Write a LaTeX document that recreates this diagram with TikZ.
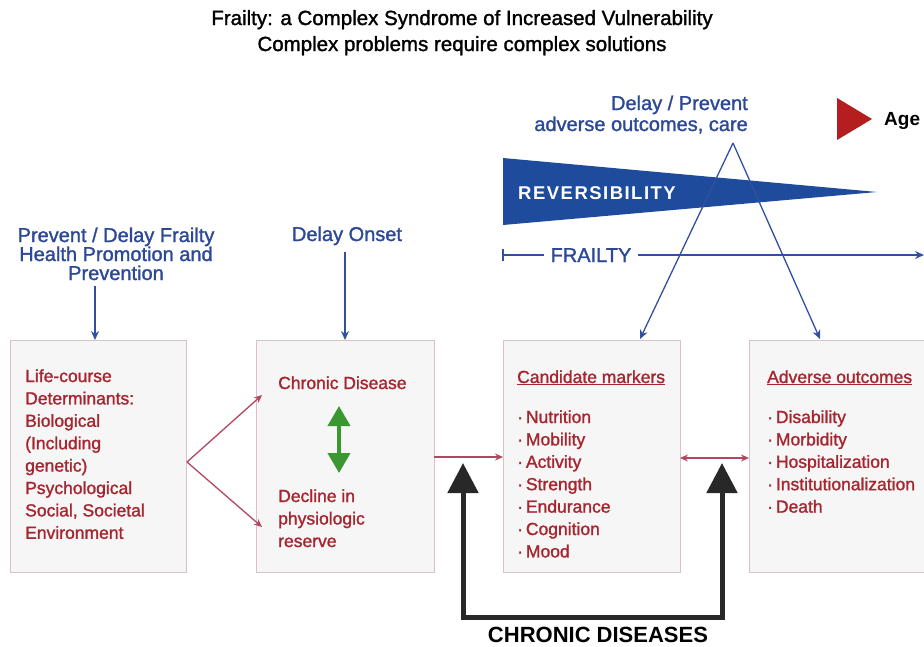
\documentclass[tikz,border=0pt]{standalone}
\usepackage{fontspec}
\setmainfont{Liberation Sans}
\newfontfamily\med[FakeBold=1.4]{Liberation Sans}
\usetikzlibrary{arrows.meta}
\definecolor{tred}{RGB}{166,38,48}
\definecolor{tblue}{RGB}{44,72,150}
\definecolor{lblue}{RGB}{50,80,160}
\definecolor{wblue}{RGB}{30,75,155}
\definecolor{cred}{RGB}{180,70,95}
\definecolor{boxfill}{RGB}{247,246,247}
\definecolor{boxline}{RGB}{215,195,198}
\definecolor{gr}{RGB}{60,150,50}
\definecolor{agered}{RGB}{180,30,30}
\definecolor{kblack}{RGB}{40,40,40}
\begin{document}
\begin{tikzpicture}[x=1pt,y=-1pt,
  box/.style={draw=boxline,fill=boxfill,line width=1pt,anchor=north west,minimum height=232pt,inner sep=0pt},
  rtxt/.style={anchor=base west,text=tred,font=\med\fontsize{17.5}{21}\selectfont,inner sep=0pt},
  btxt/.style={anchor=base,text=tblue,font=\med\fontsize{20}{23}\selectfont,inner sep=0pt},
  barrow/.style={draw=lblue,line width=1.3pt,-{Stealth[length=9pt,width=8pt]}},
  rarrow/.style={draw=cred,line width=1.3pt,-{Stealth[length=8pt,width=7pt]}},
  ttl/.style={anchor=base,font=\med\fontsize{20.5}{23}\selectfont,inner sep=0pt}]
\useasboundingbox (0,0) rectangle (924,646);
\clip (0,0) rectangle (924,646);

% title
\node[ttl] (t1) at (462,25) {Frailty: a Complex Syndrome of Increased Vulnerability};
\node[ttl] (t2) at (462,51) {Complex problems require complex solutions};

% boxes
\node[box,minimum width=176pt] (b1) at (10,340) {};
\node[box,minimum width=178pt] (b2) at (256,340) {};
\node[box,minimum width=177pt] (b3) at (503,340) {};
\node[box,minimum width=185pt] (b4) at (749,340) {};

% box 1 text
\foreach \t [count=\i from 0] in {Life-course,Determinants:,Biological,{(Including},{genetic)},Psychological,{Social, Societal},Environment}
  \node[rtxt] (l\i) at (25,382+22.4*\i) {\t};

% box 2 text
\node[rtxt] (cd) at (278,389) {Chronic Disease};
\node[rtxt] (dc1) at (278,502) {Decline in};
\node[rtxt] (dc2) at (278,524.5) {physiologic};
\node[rtxt] (dc3) at (278,547) {reserve};
\coordinate (g1) at (339,406);
\coordinate (g2) at (339,473);
\draw[gr,line width=4pt,{Triangle[length=20pt,width=22pt]}-{Triangle[length=20pt,width=22pt]}] (g1) -- (g2);

% box 3 text
\node[rtxt] (h3) at (517,383) {\underline{Candidate markers}};
\foreach \t [count=\i from 0] in {Nutrition,Mobility,Activity,Strength,Endurance,Cognition,Mood}
  \node[rtxt] (m\i) at (517,423+22.4*\i) {·\,\t};

% box 4 text
\node[rtxt] (h4) at (767,383) {\underline{Adverse outcomes}};
\foreach \t [count=\i from 0] in {Disability,Morbidity,Hospitalization,Institutionalization,Death}
  \node[rtxt] (a\i) at (767,423+22.4*\i) {·\,\t};

% blue labels
\node[btxt] (p1) at (116,242) {Prevent / Delay Frailty};
\node[btxt] (p2) at (116,261) {Health Promotion and};
\node[btxt] (p3) at (116,280) {Prevention};
\coordinate (pa) at (95,286);
\draw[barrow] (pa) -- (pa |- b1.north);

\node[btxt] (do) at (347,241) {Delay Onset};
\coordinate (da) at (345,252);
\draw[barrow] (da) -- (da |- b2.north);

\node[btxt,anchor=base east] (dp1) at (748,110) {Delay / Prevent};
\node[btxt,anchor=base east] (dp2) at (748,131) {adverse outcomes, care};

% reversibility wedge
\fill[wblue] (503,158) -- (877,192) -- (503,225) -- cycle;
\node[anchor=base west,text=white,inner sep=0pt,font=\bfseries\fontsize{18.5}{22}\selectfont\addfontfeatures{LetterSpace=8}] (rev) at (518,199) {REVERSIBILITY};

% triangle of arrows
\coordinate (apex) at (733,143);
\coordinate (t3) at (640,339);
\coordinate (t4) at (820,339);
\draw[barrow] (apex) -- (t3);
\draw[barrow] (apex) -- (t4);

% frailty line
\node[anchor=base,text=tblue,inner xsep=6pt,inner ysep=0pt,font=\med\fontsize{20}{23}\selectfont] (fr) at (591,262) {FRAILTY};
\coordinate (f0) at (503,255);
\coordinate (fa) at (503,249);
\coordinate (fb) at (503,261);
\coordinate (fe) at (924,255);
\draw[lblue,line width=1.3pt] (fa) -- (fb);
\draw[lblue,line width=1.3pt] (f0) -- (f0 -| fr.west);
\draw[barrow] (fr.east |- f0) -- (fe);

% age
\fill[agered] (837,98) -- (872,119) -- (837,140) -- cycle;
\node[anchor=base west,inner sep=0pt,font=\bfseries\fontsize{19}{23}\selectfont] (age) at (884,125) {Age};

% red connectors
\coordinate (v) at (187,462);
\coordinate (c1) at (262,395);
\coordinate (c2) at (262,527);
\draw[rarrow] (v) -- (c1);
\draw[rarrow] (v) -- (c2);
\coordinate (h1) at (434,457);
\draw[rarrow] (h1) -- (h1 -| b3.west);
\coordinate (h2) at (680,458);
\draw[rarrow,{Stealth[length=8pt,width=7pt]}-{Stealth[length=8pt,width=7pt]}] (h2) -- (h2 -| b4.west);

% chronic diseases loop
\coordinate (k1) at (463,463);
\coordinate (k2) at (463,617);
\coordinate (k3) at (722,617);
\coordinate (k4) at (722,463);
\draw[kblack,line width=5pt,line join=miter,{Triangle[length=30pt,width=30pt]}-{Triangle[length=30pt,width=30pt]}] (k1) -- (k2) -- (k3) -- (k4);
\node[anchor=base,inner sep=0pt,font=\bfseries\fontsize{22}{26}\selectfont] (cdl) at (598,642) {CHRONIC DISEASES};
\end{tikzpicture}
\end{document}
